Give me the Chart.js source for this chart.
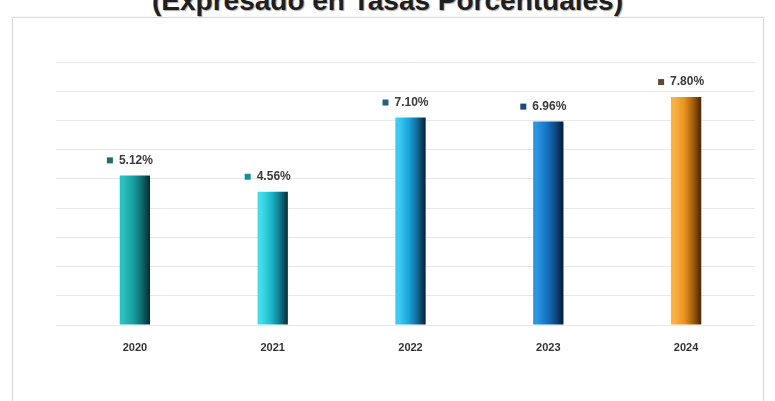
<!DOCTYPE html>
<html lang="es">
<head>
<meta charset="utf-8">
<script src="https://cdn.jsdelivr.net/npm/chart.js@4.4.1/dist/chart.umd.min.js"></script>
<style>
  html, body { margin: 0; padding: 0; background: #ffffff; }
  body { width: 775px; height: 401px; position: relative; overflow: hidden; font-family: "Liberation Sans", Arial, sans-serif; }
  #titulo {
    position: absolute; left: 0; width: 775px; top: -15px;
    text-align: center; font-weight: bold; font-size: 28px; line-height: 32px;
    color: #1f1f1f; text-shadow: 1px 1px 1px rgba(0,0,0,0.35); white-space: nowrap;
  }
  #marco {
    position: absolute; left: 12px; top: 17px; width: 752px; height: 400px;
    border: 1px solid #d9d9d9; background: #ffffff; box-sizing: border-box;
    box-shadow: 0 0 2px rgba(0,0,0,0.08);
  }
  #lienzo { position: absolute; left: 0; top: 0; }
</style>
</head>
<body>
<div id="titulo">(Expresado en Tasas Porcentuales)</div>
<div id="marco"></div>
<canvas id="lienzo" width="775" height="401"></canvas>
<script>
// Años y tasas (%)
const anios = ["2020", "2021", "2022", "2023", "2024"];
const tasas = [5.12, 4.56, 7.10, 6.96, 7.80];
const yTicks = [0, 1, 2, 3, 4, 5, 6, 7, 8, 9];

// Paleta de cada barra: claro -> medio -> oscuro, y color del marcador de la etiqueta
const coloresBarra = [
  ["#2cbfc0", "#179ea0", "#0f6a6d", "#072b2e"],
  ["#44dcea", "#1cb9cc", "#117b8f", "#082b37"],
  ["#3ccbf0", "#1aa2d8", "#126a98", "#081e34"],
  ["#2996e0", "#1573c6", "#0f4c88", "#061a32"],
  ["#f9b044", "#e8921e", "#a5600f", "#482506"]
];
const coloresMarcador = ["#1f6f69", "#168e9a", "#2d5d78", "#1e4876", "#5a4a36"];

const BAR_PCT = 0.22;

function degradadoBarra(context) {
  const chart = context.chart;
  const i = context.dataIndex;
  const paleta = coloresBarra[i] || coloresBarra[0];
  const xs = chart.scales.x;
  if (!chart.chartArea || !xs) return paleta[1];
  const cx = xs.getPixelForValue(i);
  const ancho = (chart.chartArea.right - chart.chartArea.left) / anios.length * BAR_PCT;
  const g = chart.ctx.createLinearGradient(cx - ancho / 2, 0, cx + ancho / 2, 0);
  g.addColorStop(0, paleta[0]);
  g.addColorStop(0.12, paleta[0]);
  g.addColorStop(0.45, paleta[1]);
  g.addColorStop(0.72, paleta[2]);
  g.addColorStop(1, paleta[3]);
  return g;
}

// Etiquetas de valor con marcador cuadrado sobre cada barra
const etiquetasValor = {
  id: "etiquetasValor",
  afterDatasetsDraw(chart) {
    const ctx = chart.ctx;
    const meta = chart.getDatasetMeta(0);
    ctx.save();
    ctx.font = "bold 12px 'Liberation Sans', Arial, sans-serif";
    ctx.textBaseline = "middle";
    ctx.textAlign = "left";
    meta.data.forEach((bar, i) => {
      const yTxt = bar.y - 15;
      ctx.fillStyle = coloresMarcador[i];
      ctx.fillRect(bar.x - 28, yTxt - 3, 6, 6);
      ctx.fillStyle = "#3a3a3a";
      ctx.fillText(tasas[i].toFixed(2) + "%", bar.x - 16, yTxt);
    });
    ctx.restore();
  }
};

new Chart(document.getElementById("lienzo"), {
  type: "bar",
  data: {
    labels: anios,
    datasets: [{
      data: tasas,
      backgroundColor: degradadoBarra,
      borderWidth: 0,
      barPercentage: BAR_PCT,
      categoryPercentage: 1
    }]
  },
  options: {
    responsive: false,
    animation: false,
    events: [],
    layout: { padding: { left: 46, right: 20, top: 62, bottom: 0 } },
    plugins: { legend: { display: false }, tooltip: { enabled: false }, title: { display: false } },
    scales: {
      x: {
        grid: { display: false, drawTicks: false },
        border: { display: false },
        ticks: {
          padding: 16,
          color: "#333333",
          font: { family: "'Liberation Sans', Arial, sans-serif", size: 11, weight: "bold" }
        },
        afterFit(axis) { axis.height = 76; }
      },
      y: {
        min: 0,
        max: 9,
        afterBuildTicks(axis) { axis.ticks = yTicks.map(v => ({ value: v })); },
        grid: { color: "#e9e9e9", lineWidth: 1, drawTicks: true, tickLength: 10 },
        border: { display: false },
        ticks: { display: false },
        afterFit(axis) { axis.width = 20; }
      }
    }
  },
  plugins: [etiquetasValor]
});
</script>
</body>
</html>
